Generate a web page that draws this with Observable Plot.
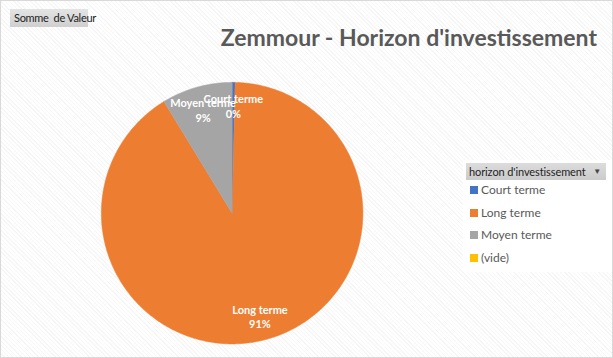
<!DOCTYPE html>
<html><head><meta charset="utf-8">
<script src="https://cdn.jsdelivr.net/npm/d3@7"></script>
<script src="https://cdn.jsdelivr.net/npm/@observablehq/plot@0.6"></script>
<style>
body{margin:0;}
#wrap{position:relative;width:613px;height:358px;box-sizing:border-box;border:1px solid #d9d9d9;
background:repeating-linear-gradient(45deg,#ffffff 0px,#ffffff 2px,#f6f6f6 2px,#f6f6f6 3px);overflow:hidden;font-family:Lato,"Open Sans",sans-serif;}
#plot{position:absolute;left:-1px;top:-1px;}
#title{position:absolute;right:15px;top:22px;font-size:23px;font-weight:bold;color:#595959;white-space:nowrap;}
#field{position:absolute;left:9px;top:8px;width:78px;height:18px;background:linear-gradient(#e4e4e4,#cfcfcf);font-size:11px;color:#222;line-height:18px;padding-left:4px;box-sizing:border-box;white-space:nowrap;letter-spacing:-0.3px;}
#legend{position:absolute;left:462px;top:159px;width:149px;height:112px;background:#fff;}
#legbtn{position:absolute;left:3px;top:3px;width:140px;height:17px;background:linear-gradient(#dcdcdc,#cbcbcb);font-size:11px;color:#222;line-height:17px;padding-left:3px;box-sizing:border-box;white-space:nowrap;letter-spacing:-0.1px;}
#legbtn span{position:absolute;right:5px;top:0;font-size:8px;color:#444;}
.item{position:absolute;left:7px;font-size:12px;color:#595959;line-height:14px;white-space:nowrap;}
.item i{display:inline-block;width:8px;height:8px;margin-right:3px;vertical-align:0px;}
</style></head>
<body>
<div id="wrap">
<div id="plot"></div>
<div id="field">Somme&nbsp; de Valeur</div>
<div id="title">Zemmour - Horizon d'investissement</div>
<div id="legend"><div id="legbtn">horizon d'investissement<span>&#9660;</span></div></div>
</div>
<script>
const categories = ["Court terme", "Long terme", "Moyen terme", "(vide)"];
const values = [1, 250, 24, 0];
const colors = ["#4472C4", "#ED7D31", "#A5A5A5", "#FFC000"];

const data = categories.map((c, i) => ({cat: c, value: values[i]}));
const total = d3.sum(values);
const pie = d3.pie().value(d => d.value).sort(null)(data);

// polygons in unit coordinates (angle 0 at top, clockwise)
const pts = [];
const labels = [];
pie.forEach(p => {
  if (p.data.value <= 0) return;
  pts.push({cat: p.data.cat, x: 0, y: 0});
  const n = Math.max(2, Math.ceil((p.endAngle - p.startAngle) / 0.01));
  for (let k = 0; k <= n; k++) {
    const a = p.startAngle + (p.endAngle - p.startAngle) * k / n;
    pts.push({cat: p.data.cat, x: Math.sin(a), y: Math.cos(a)});
  }
  pts.push({cat: p.data.cat, x: 0, y: 0});
  const m = (p.startAngle + p.endAngle) / 2;
  labels.push({x: 0.82 * Math.sin(m), y: 0.82 * Math.cos(m),
    text: p.data.cat + "\n" + Math.round(100 * p.data.value / total) + "%"});
});

const cx = 232, cy = 213, r = 131;
const chart = Plot.plot({
  width: 613, height: 358,
  margin: 0,
  style: {background: "transparent", overflow: "visible"},
  x: {domain: [-1, 1], range: [cx - r, cx + r], axis: null},
  y: {domain: [-1, 1], range: [cy + r, cy - r], axis: null},
  color: {domain: categories, range: colors},
  marks: [
    Plot.line(pts, {x: "x", y: "y", z: "cat", fill: "cat", stroke: "cat", strokeWidth: 0.5, curve: "linear"}),
    Plot.text(labels, {x: "x", y: "y", text: "text", fill: "white", fontWeight: "bold",
      fontSize: 11, lineHeight: 1.3, fontFamily: "Lato, 'Open Sans', sans-serif"})
  ]
});
document.getElementById("plot").appendChild(chart);

const leg = document.getElementById("legend");
categories.forEach((c, i) => {
  const d = document.createElement("div");
  d.className = "item";
  d.style.top = (23 + i * 22.7) + "px";
  d.innerHTML = `<i style="background:${colors[i]}"></i>${c}`;
  leg.appendChild(d);
});
</script>
</body></html>
